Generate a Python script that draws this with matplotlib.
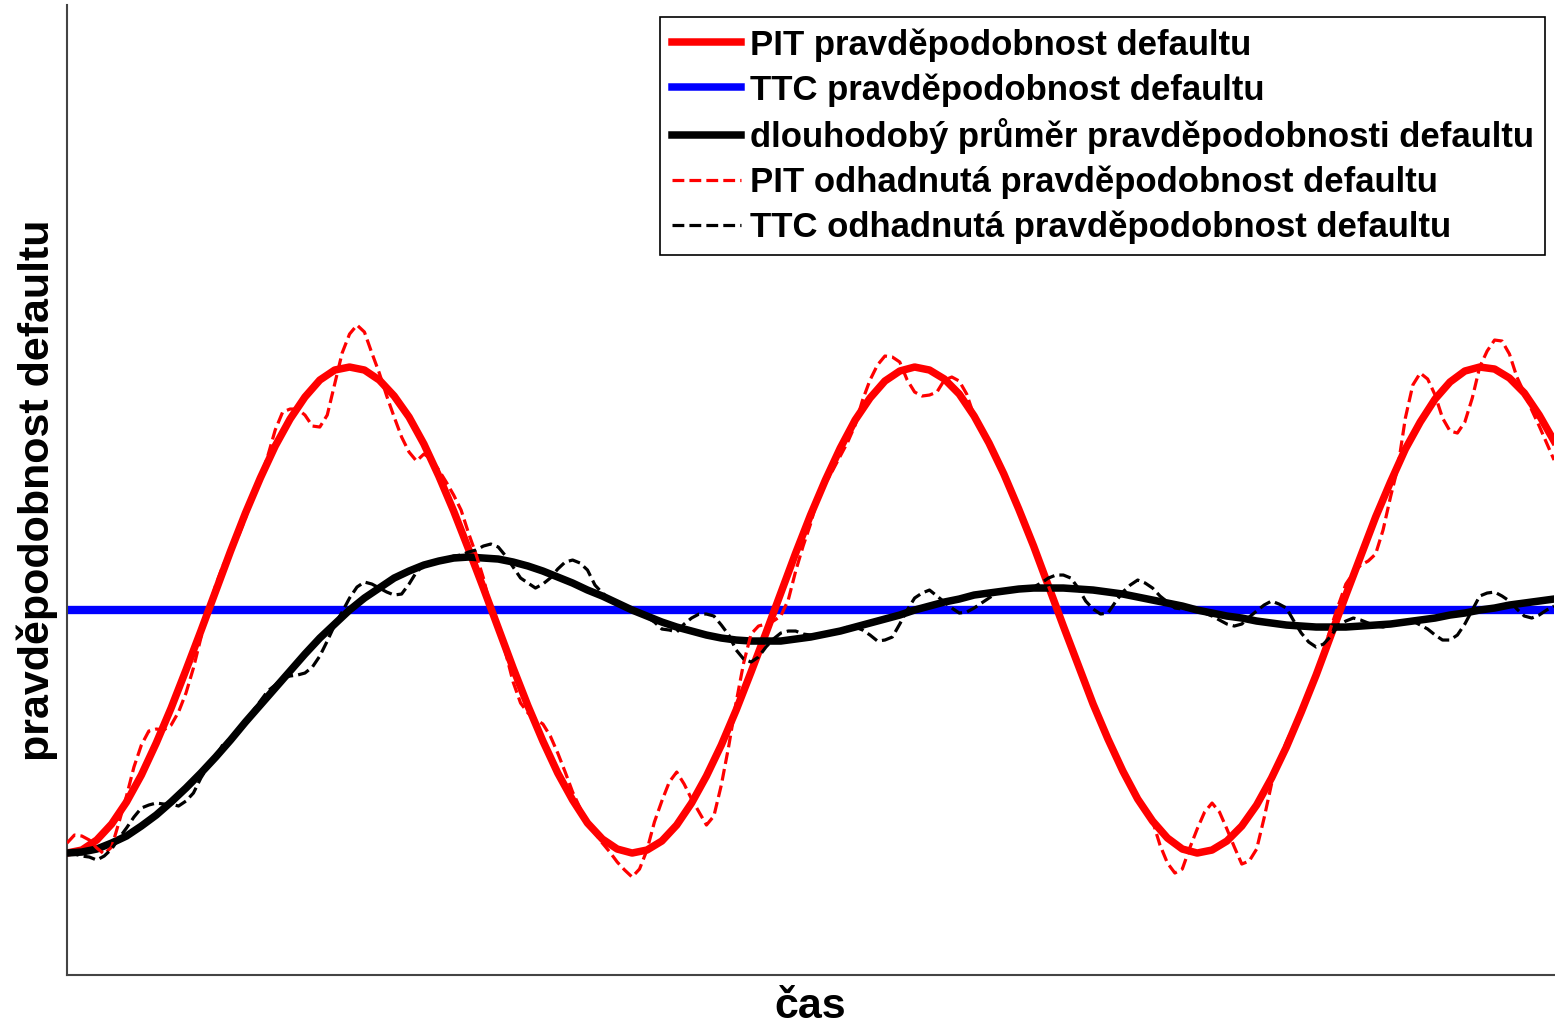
import matplotlib.pyplot as plt
import numpy as np

plt.rcParams['font.family'] = ['Liberation Sans', 'DejaVu Sans']

# time index (quarters) and default probabilities in basis points
t_full = np.arange(0, 101)
t_half = np.arange(0, 100.5, 0.5)
t_pit_est = np.r_[np.arange(0, 61.5, 0.5), np.arange(62, 73),
                  np.arange(73, 83.5, 0.5), [84], np.arange(85, 100.5, 0.5)]

pd_pit = [122, 125, 135, 151, 173, 200, 232, 267, 305, 344,
          384, 424, 462, 497, 529, 556, 578, 595, 605, 608,
          605, 595, 579, 558, 531, 499, 464, 426, 387, 347,
          307, 269, 234, 202, 175, 152, 136, 126, 122, 125,
          134, 150, 172, 199, 230, 265, 303, 342, 382, 422,
          460, 495, 527, 555, 577, 594, 604, 608, 605, 596,
          581, 559, 532, 501, 466, 429, 389, 349, 310, 271,
          236, 204, 176, 154, 137, 126, 122, 125, 134, 149,
          170, 197, 228, 263, 300, 340, 380, 419, 458, 493,
          526, 553, 576, 593, 604, 608, 606, 597, 582, 560, 534]

pd_ttc = 365

pd_longrun = [122, 123, 126, 132, 139, 149, 160, 173, 187, 202,
              218, 235, 253, 270, 287, 304, 321, 337, 351, 365,
              377, 387, 397, 404, 410, 414, 417, 418, 417, 416,
              413, 409, 404, 398, 392, 385, 379, 372, 365, 359,
              353, 348, 344, 340, 337, 335, 334, 334, 334, 336,
              338, 341, 344, 348, 352, 356, 360, 365, 369, 373,
              376, 380, 382, 384, 386, 387, 387, 387, 386, 385,
              383, 381, 378, 375, 372, 369, 365, 362, 359, 357,
              354, 352, 350, 349, 348, 348, 348, 349, 350, 351,
              353, 355, 357, 360, 362, 365, 367, 370, 372, 374, 376]

pd_pit_est = [132, 140, 139, 135, 127, 121, 128, 153, 179, 208,
              230, 244, 246, 245, 250, 263, 282, 307, 337, 365,
              390, 410, 423, 438, 457, 478, 497, 519, 545, 563,
              566, 566, 560, 549, 548, 560, 591, 622, 641, 650,
              643, 622, 602, 579, 558, 538, 523, 514, 521, 516,
              505, 493, 480, 465, 442, 421, 397, 367, 345, 322,
              293, 272, 262, 256, 251, 239, 222, 203, 183, 167,
              152, 142, 132, 123, 113, 105, 98, 106, 125, 153,
              174, 193, 203, 191, 176, 163, 150, 159, 190, 229,
              273, 312, 341, 349, 351, 354, 359, 375, 404, 429,
              451, 478, 492, 505, 519, 533, 550, 575, 595, 610,
              619, 618, 613, 595, 583, 579, 580, 583, 595, 598,
              594, 581, 559,
              532, 502, 466, 429, 389, 349, 310, 271, 236, 206, 178,
              154, 130, 112, 102, 106, 127, 146, 163, 172, 163,
              146, 128, 111, 114, 126, 157, 191, 215, 233, 249, 263,
              300,
              348, 370, 391, 402, 410, 414, 421, 445, 478, 508,
              557, 590, 602, 596, 580, 557, 544, 542, 553, 577,
              608, 624, 635, 634, 621, 598, 582, 565, 549, 532, 515]

pd_ttc_est = [122, 121, 119, 118, 115, 119, 126, 137, 147, 158,
              167, 170, 172, 171, 171, 169, 174, 182, 197, 209,
              218, 231, 236, 241, 252, 264, 274, 284, 290, 297,
              299, 300, 302, 308, 319, 334, 350, 363, 377, 388,
              393, 391, 387, 383, 380, 381, 391, 403, 410, 412,
              414, 416, 419, 420, 423, 425, 429, 431, 428, 419,
              408, 397, 392, 387, 391, 397, 406, 413, 415, 412,
              405, 390, 382, 376, 372, 369, 365, 362, 358, 353,
              346, 345, 343, 351, 357, 361, 361, 359, 350, 340,
              325, 316, 313, 318, 328, 336, 342, 344, 344, 341,
              340, 339, 341, 343, 345, 348, 348, 345, 340, 334,
              335, 338, 351, 365, 377, 382, 385, 379, 373, 367,
              362, 363, 367, 372, 377, 382, 384, 385, 386, 386,
              388, 392, 397, 400, 400, 397, 387, 374, 366, 361,
              362, 373, 383, 390, 395, 392, 387, 379, 373, 367,
              366, 366, 365, 362, 359, 355, 351, 349, 351, 358,
              364, 370, 374, 371, 367, 354, 342, 333, 328, 331,
              339, 350, 354, 357, 355, 352, 349, 348, 350, 352,
              353, 354, 350, 346, 340, 335, 335, 340, 351, 365,
              379, 382, 383, 379, 374, 366, 359, 357, 360, 365, 369]

labels = ['PIT pravděpodobnost defaultu',
          'TTC pravděpodobnost defaultu',
          'dlouhodobý průměr pravděpodobnosti defaultu',
          'PIT odhadnutá pravděpodobnost defaultu',
          'TTC odhadnutá pravděpodobnost defaultu']

fig = plt.figure(figsize=(15.55, 10.27), dpi=100)
ax = fig.add_axes([0.0431, 0.0506, 0.9563, 0.9445])

l_ttc = ax.axhline(pd_ttc, color='#0000ff', lw=6, zorder=1)
l_pit, = ax.plot(t_full, pd_pit, color='#ff0000', lw=5.4, zorder=2)
l_lr, = ax.plot(t_full, pd_longrun, color='black', lw=5.4, zorder=3)
l_pit_est, = ax.plot(t_pit_est, pd_pit_est, color='#ff0000', lw=2.3,
                     ls='--', zorder=4)
l_ttc_est, = ax.plot(t_half, pd_ttc_est, color='black', lw=2.3,
                     ls='--', zorder=5)

ax.set_xlim(0, 100)
ax.set_ylim(0, 970)
ax.set_xticks([])
ax.set_yticks([])
for side in ['top', 'right']:
    ax.spines[side].set_visible(False)
for side in ['left', 'bottom']:
    ax.spines[side].set_color('#444444')
    ax.spines[side].set_linewidth(1.5)

ax.set_ylabel('pravděpodobnost defaultu', fontsize=31, fontweight='bold')
ax.yaxis.set_label_coords(-0.006, 0.5)
ax.set_xlabel('čas', fontsize=31, fontweight='bold')
ax.xaxis.set_label_coords(0.5, -0.012)

leg = ax.legend([l_pit, l_ttc, l_lr, l_pit_est, l_ttc_est], labels,
                loc='upper right', bbox_to_anchor=(0.994, 0.988),
                borderaxespad=0, fancybox=False, framealpha=1,
                edgecolor='black', handlelength=2.0, handletextpad=0.25,
                labelspacing=0.33, borderpad=0.33,
                prop={'size': 25, 'weight': 'bold'})
leg.get_frame().set_linewidth(1.2)
leg.legend_handles[1].set_linewidth(5.4)

fig.savefig('out.png', dpi=100)
